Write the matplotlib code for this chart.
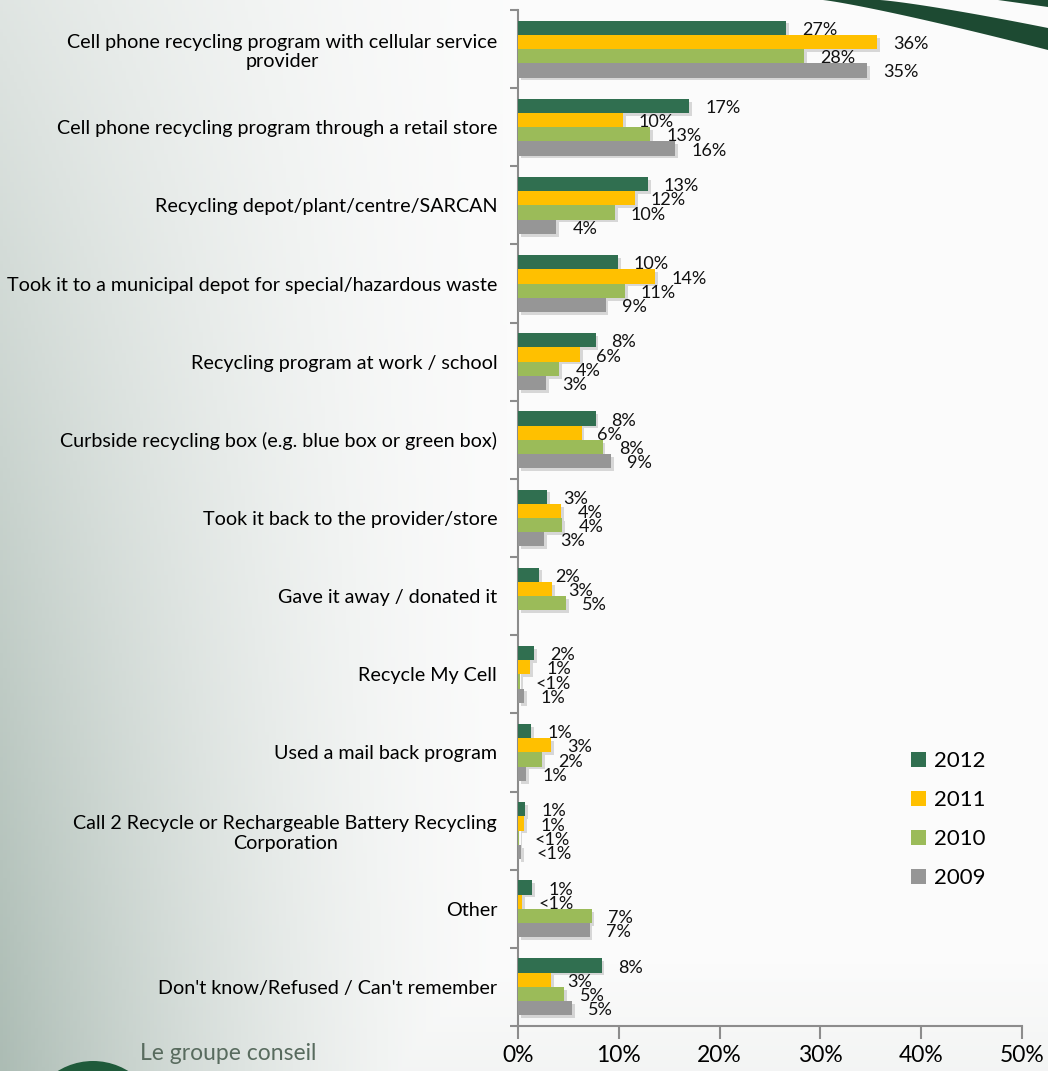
import numpy as np
import matplotlib.pyplot as plt
from matplotlib import patheffects
from matplotlib.patches import Polygon, Circle

plt.rcParams['font.family'] = ['Lato', 'DejaVu Sans']

# Survey answers, top to bottom
categories = [
    "Cell phone recycling program with cellular service\nprovider",
    "Cell phone recycling program through a retail store",
    "Recycling depot/plant/centre/SARCAN",
    "Took it to a municipal depot for special/hazardous waste",
    "Recycling program at work / school",
    "Curbside recycling box (e.g. blue box or green box)",
    "Took it back to the provider/store",
    "Gave it away / donated it",
    "Recycle My Cell",
    "Used a mail back program",
    "Call 2 Recycle or Rechargeable Battery Recycling\nCorporation",
    "Other",
    "Don't know/Refused / Can't remember",
]

years = ["2012", "2011", "2010", "2009"]
pct_2012 = [26.6, 17.0, 12.9, 9.9, 7.7, 7.7, 2.9, 2.1, 1.6, 1.3, 0.7, 1.4, 8.3]
pct_2011 = [35.6, 10.4, 11.6, 13.6, 6.2, 6.3, 4.3, 3.4, 1.2, 3.3, 0.6, 0.4, 3.3]
pct_2010 = [28.4, 13.1, 9.6, 10.6, 4.1, 8.4, 4.4, 4.8, 0.2, 2.4, 0.1, 7.3, 4.6]
pct_2009 = [34.6, 15.6, 3.8, 8.7, 2.8, 9.2, 2.6, np.nan, 0.6, 0.8, 0.3, 7.1, 5.4]
colors = ["#306f50", "#ffc000", "#9bbb59", "#969696"]

xticks = [0, 10, 20, 30, 40, 50]


def pct_label(v):
    if v < 0.5:
        return "<1%"
    return "{:.0f}%".format(v)


W, H = 1048, 1071
fig = plt.figure(figsize=(W / 100, H / 100), dpi=100)

# slide background: soft grey-green wash on the left fading to white
bg = fig.add_axes([0, 0, 1, 1], zorder=0)
bg.set_xlim(0, W)
bg.set_ylim(H, 0)
bg.axis('off')
xx, yy = np.meshgrid(np.linspace(0, 1, 300), np.linspace(0, 1, 300))
w = np.clip(1 - xx / 0.5, 0, 1) ** 1.6 * (0.35 + 0.65 * yy)
w = np.maximum(w, 0.10 * np.clip((yy - 0.9) / 0.1, 0, 1))
base = np.array([172, 188, 180]) / 255.
white = np.array([0.985, 0.985, 0.985])
img = white[None, None, :] * (1 - w[..., None]) + base[None, None, :] * w[..., None]
bg.imshow(img, extent=[0, W, H, 0], aspect='auto', zorder=0)

# dark green swoosh in the top right corner
xl = np.linspace(823, W + 2, 60)
yl = 50 * ((xl - 823) / (W - 823)) ** 1.15
xu = np.linspace(W + 2, 880, 60)
yu = 28 * (np.clip(xu - 880, 0, None) / (W - 880)) ** 1.2
swoosh = np.c_[np.r_[xl, xu], np.r_[yl, yu]]
bg.add_patch(Polygon(swoosh, closed=True, facecolor="#1d4a32", edgecolor='none', zorder=1))
bg.add_patch(Polygon([[998, 0], [W, 0], [W, 7]], closed=True,
                     facecolor="#1d4a32", edgecolor='none', zorder=1))

# logo in the bottom left corner
bg.add_patch(Circle((93, 1128), 67, facecolor="#1f5a3a", edgecolor='none', zorder=1))
bg.text(140, 1053, "Le groupe conseil", fontsize=16.5, color="#586b5e",
        va='center', ha='left', zorder=2)

# main chart
ax = fig.add_axes([518 / W, 1 - 1026 / H, (1022 - 518) / W, (1026 - 10) / H], zorder=1)
ax.set_facecolor('none')

n = len(categories)
y = np.arange(n)
bar_h = 0.182
series = [pct_2012, pct_2011, pct_2010, pct_2009]
shadow = [patheffects.withSimplePatchShadow(offset=(2, -2), shadow_rgbFace='#7a7a7a', alpha=0.28)]

for i, (vals, col, yr) in enumerate(zip(series, colors, years)):
    vals = np.array(vals, dtype=float)
    pos = y - 1.5 * bar_h + i * bar_h
    ok = ~np.isnan(vals)
    bars = ax.barh(pos[ok], vals[ok], height=bar_h, color=col, label=yr, zorder=3)
    for b in bars:
        b.set_path_effects(shadow)
    for p, v in zip(pos[ok], vals[ok]):
        ax.annotate(pct_label(v), xy=(v, p), xytext=(11.5, -1.5), textcoords='offset points',
                    ha='left', va='center', fontsize=13, color='#111111', zorder=5)

ax.set_xlim(0, 50)
ax.set_ylim(n - 0.5, -0.5)
ax.set_xticks(xticks)
ax.set_xticklabels(["{}%".format(v) for v in xticks], fontsize=16.5)
ax.set_yticks(y)
ax.set_yticklabels(categories, fontsize=14.2)
for lab in ax.get_yticklabels():
    lab.set_multialignment('center')
ax.set_yticks(np.arange(-0.5, n), minor=True)
ax.tick_params(axis='y', which='major', length=0, pad=15)
ax.tick_params(axis='y', which='minor', length=6, width=1.5, color='#8c8c8c')
ax.tick_params(axis='x', length=9, width=1.5, color='#8c8c8c', pad=5)

for side in ['top', 'right']:
    ax.spines[side].set_visible(False)
for side in ['left', 'bottom']:
    ax.spines[side].set_color('#8c8c8c')
    ax.spines[side].set_linewidth(1.5)

leg = ax.legend(loc='upper left', bbox_to_anchor=(911 / W, 1 - 751 / H),
                bbox_transform=fig.transFigure, frameon=False, fontsize=16,
                handlelength=0.68, handleheight=0.68, handletextpad=0.35,
                labelspacing=0.86, borderpad=0, borderaxespad=0)
for h in leg.legend_handles:
    h.set_path_effects([])

fig.savefig('out.png', dpi=100)
